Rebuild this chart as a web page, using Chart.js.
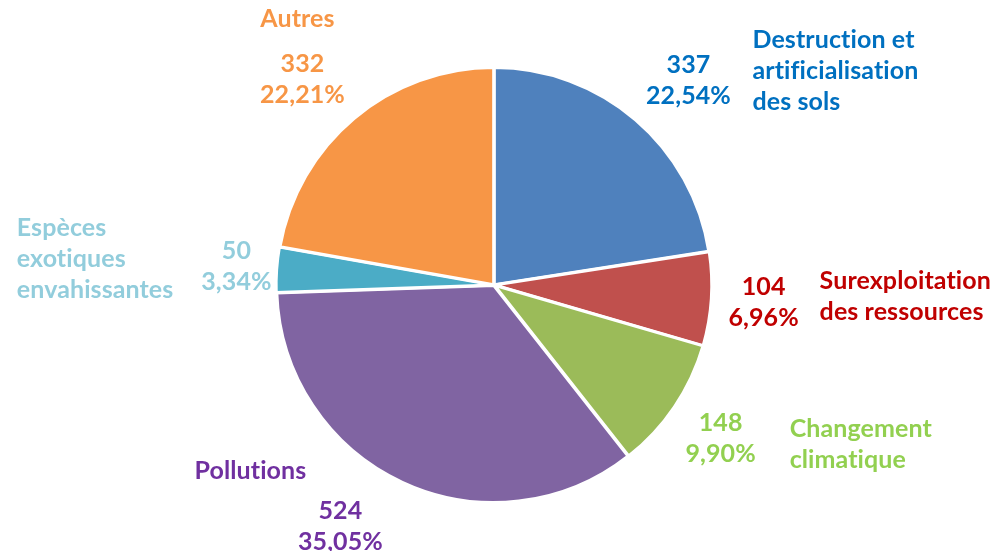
<!DOCTYPE html>
<html>
<head>
<meta charset="utf-8">
<script src="https://cdn.jsdelivr.net/npm/chart.js@4.4.0/dist/chart.umd.min.js"></script>
<style>
  html, body { margin: 0; padding: 0; background: #fff; }
  #wrap { width: 994px; height: 551px; }
</style>
</head>
<body>
<div id="wrap"><canvas id="pieChart"></canvas></div>
<script>
// Menaces sur la biodiversité (nombre d'espèces)
const categories = [
  ['Destruction et', 'artificialisation', 'des sols'],
  ['Surexploitation', 'des ressources'],
  ['Changement', 'climatique'],
  ['Pollutions'],
  ['Espèces', 'exotiques', 'envahissantes'],
  ['Autres']
];
const counts = [337, 104, 148, 524, 50, 332];
const percentLabels = ['22,54%', '6,96%', '9,90%', '35,05%', '3,34%', '22,21%'];

const sliceColors = ['#4F81BD', '#C0504D', '#9BBB59', '#8064A2', '#4BACC6', '#F79646'];
const textColors = ['#0070C0', '#C00000', '#92D050', '#7030A0', '#92CDDC', '#F79646'];

// label layout: value label at radius factor k along mid angle (+ shift in degrees),
// category block offset from the value label
const labelLayout = [
  { k: 1.30, shift: 3, catDx: 64, catDy: -10, align: 'left' },
  { k: 1.245, shift: 0, catDx: 56, catDy: -6, align: 'left' },
  { k: 1.26, shift: 0, catDx: 69, catDy: 6, align: 'left' },
  { k: 1.32, shift: 7.5, catDx: -90, catDy: -56, align: 'center' },
  { k: 1.19, shift: 0, catDx: -63, catDy: -8, align: 'rightbox' },
  { k: 1.295, shift: -3, catDx: -5, catDy: -60, align: 'center' }
];

const FONT = 'bold 25px Lato, "Liberation Sans", sans-serif';
const LINE = 31;

const pieLabels = {
  id: 'pieLabels',
  afterDatasetsDraw(chart) {
    const ctx = chart.ctx;
    const arcs = chart.getDatasetMeta(0).data;
    ctx.save();
    ctx.font = FONT;
    ctx.letterSpacing = '0.1px'; // keeps "ti" from turning into a ligature
    ctx.textBaseline = 'middle';
    arcs.forEach((arc, i) => {
      const p = arc.getProps(['x', 'y', 'startAngle', 'endAngle', 'outerRadius'], true);
      const lay = labelLayout[i];
      const mid = (p.startAngle + p.endAngle) / 2 + lay.shift * Math.PI / 180;
      const vx = p.x + Math.cos(mid) * p.outerRadius * lay.k;
      const vy = p.y + Math.sin(mid) * p.outerRadius * lay.k;
      ctx.fillStyle = textColors[i];
      ctx.textAlign = 'center';
      ctx.fillText(String(counts[i]), vx, vy - LINE / 2);
      ctx.fillText(percentLabels[i], vx, vy + LINE / 2);

      const lines = categories[i];
      const cy = vy + lay.catDy;
      let cx = vx + lay.catDx;
      if (lay.align === 'rightbox') {
        const maxW = Math.max(...lines.map(l => ctx.measureText(l).width));
        cx = cx - maxW;
        ctx.textAlign = 'left';
      } else {
        ctx.textAlign = lay.align;
      }
      lines.forEach((line, j) => {
        ctx.fillText(line, cx, cy + (j - (lines.length - 1) / 2) * LINE);
      });
    });
    ctx.restore();
  }
};

new Chart(document.getElementById('pieChart'), {
  type: 'pie',
  data: {
    labels: categories.map(c => c.join(' ')),
    datasets: [{
      data: counts,
      backgroundColor: sliceColors,
      borderColor: '#ffffff',
      borderWidth: 3,
      offset: 2,
      hoverOffset: 0
    }]
  },
  options: {
    responsive: true,
    maintainAspectRatio: false,
    animation: false,
    radius: 217,
    layout: { padding: { left: 0, right: 6, top: 68, bottom: 49 } },
    plugins: {
      legend: { display: false },
      tooltip: { enabled: false }
    }
  },
  plugins: [pieLabels]
});
</script>
</body>
</html>
